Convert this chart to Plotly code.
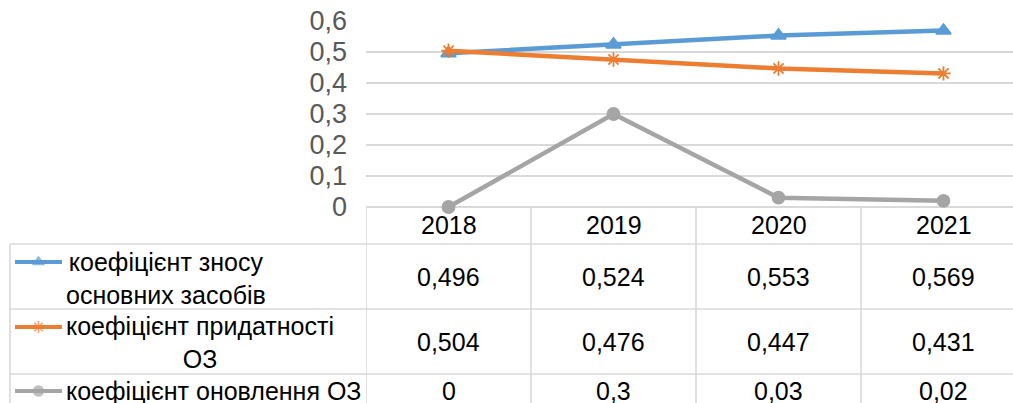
import plotly.graph_objects as go

years = ["2018", "2019", "2020", "2021"]
znos = [0.496, 0.524, 0.553, 0.569]
prydatnist = [0.504, 0.476, 0.447, 0.431]
onovlennia = [0, 0.3, 0.03, 0.02]

series_names = ["коефіцієнт зносу<br>основних засобів",
                "коефіцієнт придатності<br>ОЗ",
                "коефіцієнт оновлення ОЗ"]
series_values = [znos, prydatnist, onovlennia]
colors = ["#5b9bd5", "#ed7d31", "#a5a5a5"]
symbols = ["triangle-up", "asterisk-open", "circle"]
msizes = [13, 12, 12]

W, H = 1013, 403
FONT = "Liberation Sans, Arial, sans-serif"
GRID = "#d9d9d9"
TXT = 25


def py(p):
    return 1 - p / H


def px(p):
    return p / W


def fmt(v):
    return f"{v:g}".replace(".", ",")


plot_left, plot_top, plot_bottom = 366, 21, 207
cat_w = 165
x_max = (W - plot_left) / cat_w - 0.5

fig = go.Figure()

for name, vals, c, s, ms in zip(series_names, series_values, colors, symbols, msizes):
    fig.add_trace(go.Scatter(
        x=list(range(len(years))), y=vals, mode="lines+markers",
        name=name.replace("<br>", " "),
        line=dict(color=c, width=4.5),
        marker=dict(symbol=s, size=ms, color=c, line=dict(color=c, width=1.8)),
        cliponaxis=False, showlegend=False,
    ))

# legend samples inside the table (on a separate full-page pixel axis)
sample_y = [262, 327, 391]
for c, s, ms, yy in zip(colors, symbols, msizes, sample_y):
    fig.add_trace(go.Scatter(
        x=[15, 38.5, 62], y=[yy, yy, yy], mode="lines+markers",
        line=dict(color=c, width=4),
        marker=dict(symbol=s, size=[0, 10, 0], color=c, line=dict(color=c, width=1.6)),
        xaxis="x2", yaxis="y2", showlegend=False, hoverinfo="skip", cliponaxis=False,
    ))

shapes = []
line_style = dict(color=GRID, width=1.6)
for yy in [244, 309, 374]:
    shapes.append(dict(type="line", xref="paper", yref="paper",
                       x0=px(10), x1=1, y0=py(yy), y1=py(yy), line=line_style))
shapes.append(dict(type="line", xref="paper", yref="paper",
                   x0=px(10), x1=px(10), y0=py(244), y1=0, line=line_style))
for xv in [-0.5, 0.5, 1.5, 2.5]:
    shapes.append(dict(type="line", xref="x", yref="paper",
                       x0=xv, x1=xv, y0=py(plot_bottom), y1=0, line=line_style))

annotations = []
for i, yr in enumerate(years):
    annotations.append(dict(x=i, y=py(225), xref="x", yref="paper", text=yr,
                            showarrow=False, xanchor="center", yanchor="middle",
                            font=dict(family=FONT, size=TXT, color="#000000")))
row_y = [277, 342, 391]
for vals, ry in zip(series_values, row_y):
    for i, v in enumerate(vals):
        annotations.append(dict(x=i, y=py(ry), xref="x", yref="paper", text=fmt(v),
                                showarrow=False, xanchor="center", yanchor="middle",
                                font=dict(family=FONT, size=TXT, color="#000000")))
name_y = [278, 342, 391]
for nm, ny in zip(series_names, name_y):
    annotations.append(dict(x=px(64), y=py(ny), xref="paper", yref="paper", text=nm,
                            showarrow=False, xanchor="left", yanchor="middle", align="center",
                            font=dict(family=FONT, size=TXT, color="#000000")))

fig.update_layout(
    width=W, height=H,
    margin=dict(l=0, r=0, t=0, b=0, pad=0, autoexpand=False),
    paper_bgcolor="white", plot_bgcolor="rgba(0,0,0,0)",
    separators=", ",
    font=dict(family=FONT),
    shapes=shapes, annotations=annotations,
    xaxis=dict(domain=[px(plot_left), 1], range=[-0.5, x_max], automargin=False,
               showticklabels=False, showgrid=False, zeroline=False, showline=False),
    yaxis=dict(domain=[py(plot_bottom), py(plot_top)], range=[0, 0.6], automargin=False,
               dtick=0.1, tick0=0, showgrid=True, gridcolor=GRID, gridwidth=1.6,
               zeroline=True, zerolinecolor=GRID, zerolinewidth=1.6,
               tickfont=dict(family=FONT, size=27, color="#595959"),
               ticklabelstandoff=18, showline=False),
    xaxis2=dict(domain=[0, 1], range=[0, W], visible=False, anchor="y2", automargin=False),
    yaxis2=dict(domain=[0, 1], range=[H, 0], visible=False, anchor="x2", automargin=False),
)

fig.write_html(
    "out.html",
    config={"displayModeBar": False},
    post_script="document.body.style.margin='0';document.body.style.overflow='hidden';",
)
